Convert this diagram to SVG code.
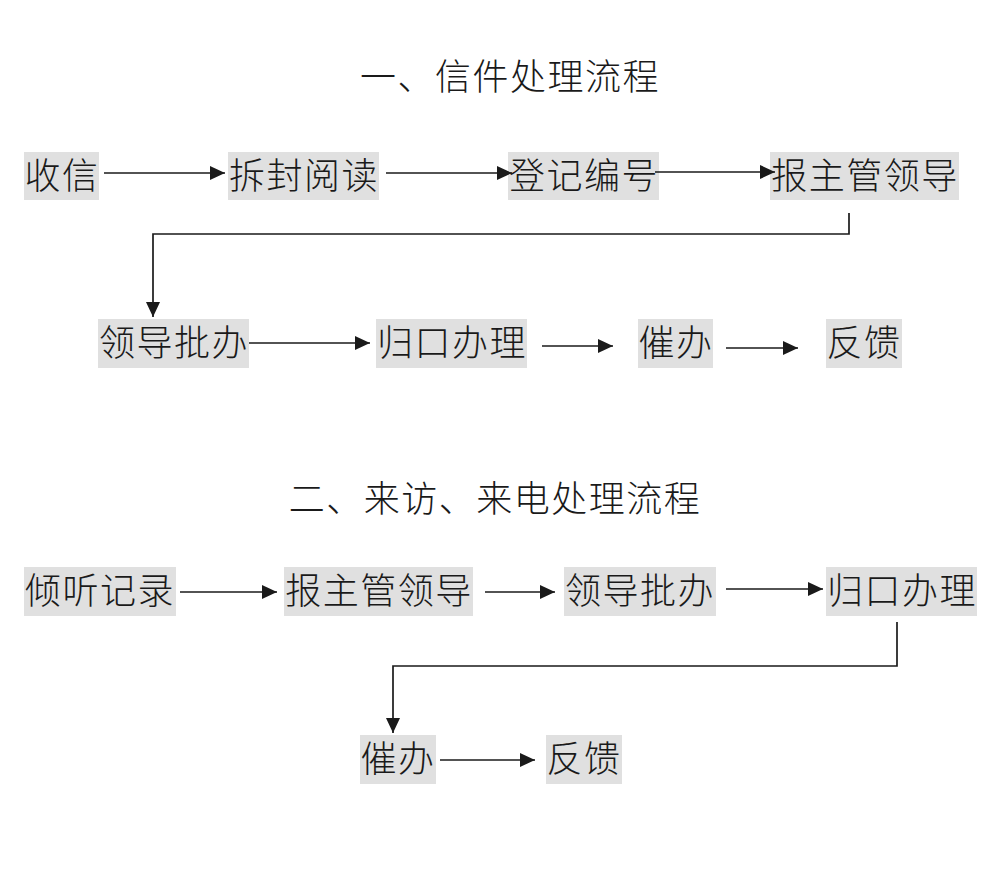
<svg xmlns="http://www.w3.org/2000/svg" width="998" height="877" viewBox="0 0 998 877">
<style>
.bg{fill:#ffffff}
.box{fill:#e0e0e0}
.lbl{font-family:"Noto Sans CJK SC","Noto Sans",sans-serif;font-size:36px;font-weight:300;fill:#1a1a1a;text-anchor:middle;letter-spacing:1.5px}
.title{font-family:"Noto Sans CJK SC","Noto Sans",sans-serif;font-size:36px;font-weight:300;fill:#1a1a1a;text-anchor:middle;letter-spacing:1.5px}
.ln{fill:none;stroke:#1a1a1a;stroke-width:1.7}
</style>
<defs>
<marker id="ah" viewBox="0 0 15 14" refX="15" refY="7" markerWidth="15" markerHeight="14" markerUnits="userSpaceOnUse" orient="auto">
<path d="M0,0 L15,7 L0,14 Z" fill="#1a1a1a"/>
</marker>
</defs>
<rect class="bg" x="0" y="0" width="998" height="877"/>
<text class="title" x="510" y="90">一、信件处理流程</text>
<text class="title" x="495" y="512">二、来访、来电处理流程</text>

<g id="n1"><rect class="box" x="24" y="152" width="75" height="48"/><text class="lbl" x="62" y="189">收信</text></g>
<g id="n2"><rect class="box" x="228" y="152" width="151" height="48"/><text class="lbl" x="304" y="189">拆封阅读</text></g>
<g id="n3"><rect class="box" x="508" y="152" width="151" height="48"/><text class="lbl" x="584" y="189">登记编号</text></g>
<g id="n4"><rect class="box" x="770" y="152" width="189" height="48"/><text class="lbl" x="865" y="189">报主管领导</text></g>
<g id="n5"><rect class="box" x="98" y="319" width="151" height="49"/><text class="lbl" x="174" y="356">领导批办</text></g>
<g id="n6"><rect class="box" x="376" y="319" width="151" height="49"/><text class="lbl" x="452" y="356">归口办理</text></g>
<g id="n7"><rect class="box" x="638" y="319" width="75" height="49"/><text class="lbl" x="676" y="356">催办</text></g>
<g id="n8"><rect class="box" x="826" y="319" width="76" height="49"/><text class="lbl" x="864" y="356">反馈</text></g>

<g id="m1"><rect class="box" x="24" y="567" width="152" height="49"/><text class="lbl" x="100" y="604">倾听记录</text></g>
<g id="m2"><rect class="box" x="284" y="567" width="189" height="49"/><text class="lbl" x="379" y="604">报主管领导</text></g>
<g id="m3"><rect class="box" x="564" y="567" width="152" height="49"/><text class="lbl" x="640" y="604">领导批办</text></g>
<g id="m4"><rect class="box" x="826" y="567" width="151" height="49"/><text class="lbl" x="902" y="604">归口办理</text></g>
<g id="m5"><rect class="box" x="360" y="735" width="76" height="49"/><text class="lbl" x="398" y="772">催办</text></g>
<g id="m6"><rect class="box" x="546" y="735" width="76" height="49"/><text class="lbl" x="584" y="772">反馈</text></g>

<g id="connectors">
<path class="ln" d="M104,173 H225" marker-end="url(#ah)"/>
<path class="ln" d="M386,173 H512" marker-end="url(#ah)"/>
<path class="ln" d="M655,172 H775" marker-end="url(#ah)"/>
<path class="ln" d="M849,213 V234 H153 V317" marker-end="url(#ah)"/>
<path class="ln" d="M249,343 H370" marker-end="url(#ah)"/>
<path class="ln" d="M542,346 H613" marker-end="url(#ah)"/>
<path class="ln" d="M726,348 H798" marker-end="url(#ah)"/>

<path class="ln" d="M180,592 H277" marker-end="url(#ah)"/>
<path class="ln" d="M485,592 H555" marker-end="url(#ah)"/>
<path class="ln" d="M726,589 H823" marker-end="url(#ah)"/>
<path class="ln" d="M897,622 V666 H393 V733" marker-end="url(#ah)"/>
<path class="ln" d="M440,760 H535" marker-end="url(#ah)"/>
</g>
</svg>
